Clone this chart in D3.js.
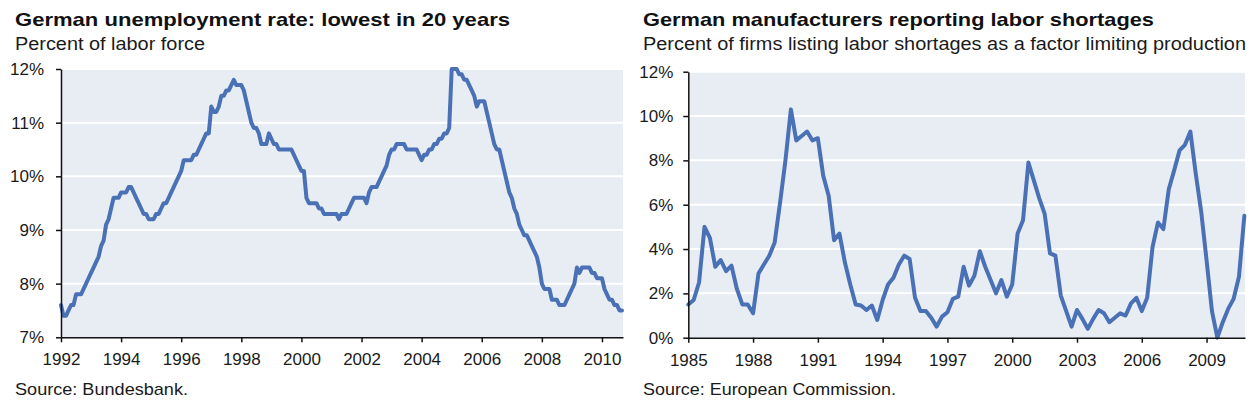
<!DOCTYPE html>
<html lang="en">
<head>
    <meta charset="UTF-8">
    <title>German labor market</title>
    <script src="https://d3js.org/d3.v7.min.js"></script>
    <style>
        html, body {
            margin: 0;
            padding: 0;
            background: #ffffff;
            overflow: hidden;
        }

        svg {
            display: block;
            font-family: "Liberation Sans", Arial, sans-serif;
        }

        .title {
            font-size: 18.5px;
            font-weight: bold;
            fill: #111;
        }

        .subtitle, .source {
            font-size: 17.5px;
            fill: #1a1a1a;
        }

        .source {
            font-size: 17px;
        }

        .axis text {
            font-size: 17px;
            fill: #1a1a1a;
        }

        .axis path, .axis line {
            stroke: #111;
            stroke-width: 1.5px;
        }

        .grid {
            stroke: #ffffff;
            stroke-width: 2px;
        }

        .plot-bg {
            fill: #e8edf4;
        }

        .series {
            fill: none;
            stroke: #4a71b6;
            stroke-width: 4px;
            stroke-linejoin: round;
            stroke-linecap: round;
        }
    </style>
</head>
<body>

    <svg id="chart" width="1251" height="413"></svg>

    <script>
        // Unemployment rate, percent of labor force, monthly from Jan 1992
        const unempStart = 1992;
        const unempMonthly = [
            7.6, 7.4, 7.4, 7.5, 7.6, 7.6, 7.8, 7.8, 7.8, 7.9, 8.0, 8.1,        // 1992
            8.2, 8.3, 8.4, 8.5, 8.7, 8.8, 9.1, 9.2, 9.4, 9.6, 9.6, 9.6,        // 1993
            9.7, 9.7, 9.7, 9.8, 9.8, 9.7, 9.6, 9.5, 9.4, 9.3, 9.3, 9.2,        // 1994
            9.2, 9.2, 9.3, 9.3, 9.4, 9.5, 9.5, 9.6, 9.7, 9.8, 9.9, 10.0,       // 1995
            10.1, 10.3, 10.3, 10.3, 10.3, 10.4, 10.4, 10.5, 10.6, 10.7, 10.8, 10.8, // 1996
            11.3, 11.2, 11.2, 11.3, 11.5, 11.5, 11.6, 11.6, 11.7, 11.8, 11.7, 11.7, // 1997
            11.7, 11.6, 11.4, 11.2, 11.0, 10.9, 10.9, 10.8, 10.6, 10.6, 10.6, 10.8, // 1998
            10.7, 10.6, 10.6, 10.5, 10.5, 10.5, 10.5, 10.5, 10.5, 10.4, 10.3, 10.2, // 1999
            10.1, 10.1, 9.6, 9.5, 9.5, 9.5, 9.5, 9.4, 9.4, 9.3, 9.3, 9.3,      // 2000
            9.3, 9.3, 9.3, 9.2, 9.3, 9.3, 9.3, 9.4, 9.5, 9.6, 9.6, 9.6,        // 2001
            9.6, 9.6, 9.5, 9.7, 9.8, 9.8, 9.8, 9.9, 10.0, 10.1, 10.2, 10.4,    // 2002
            10.5, 10.5, 10.6, 10.6, 10.6, 10.6, 10.5, 10.5, 10.5, 10.5, 10.5, 10.4, // 2003
            10.3, 10.4, 10.4, 10.5, 10.5, 10.6, 10.6, 10.7, 10.7, 10.8, 10.8, 10.9, // 2004
            12.0, 12.0, 12.0, 11.9, 11.9, 11.8, 11.8, 11.7, 11.6, 11.5, 11.3, 11.4, // 2005
            11.4, 11.4, 11.2, 11.0, 10.8, 10.6, 10.5, 10.5, 10.3, 10.1, 9.9, 9.7,   // 2006
            9.6, 9.4, 9.3, 9.1, 9.0, 8.9, 8.9, 8.8, 8.7, 8.6, 8.5, 8.3,        // 2007
            8.0, 7.9, 7.9, 7.9, 7.7, 7.7, 7.7, 7.6, 7.6, 7.6, 7.7, 7.8,        // 2008
            7.9, 8.0, 8.3, 8.2, 8.3, 8.3, 8.3, 8.3, 8.2, 8.2, 8.1, 8.1,        // 2009
            8.1, 7.9, 7.8, 7.7, 7.7, 7.6, 7.6, 7.5, 7.5                        // 2010
        ];
        const unempYTicks = [7, 8, 9, 10, 11, 12];
        const unempXTicks = [1992, 1994, 1996, 1998, 2000, 2002, 2004, 2006, 2008, 2010];

        // Firms listing labor shortages as a limiting factor, percent, quarterly from Q1 1985
        const shortStart = 1985;
        const shortQuarterly = [
            1.5, 1.7, 2.5, 5.0,     // 1985
            4.5, 3.2, 3.5, 3.0,     // 1986
            3.25, 2.2, 1.5, 1.5,    // 1987
            1.1, 2.9, 3.3, 3.7,     // 1988
            4.3, 6.1, 8.0, 10.3,    // 1989
            8.9, 9.1, 9.3, 8.9,     // 1990
            9.0, 7.3, 6.4, 4.4,     // 1991
            4.7, 3.4, 2.4, 1.5,     // 1992
            1.45, 1.25, 1.45, 0.8,  // 1993
            1.7, 2.4, 2.7, 3.3,     // 1994
            3.7, 3.55, 1.8, 1.2,    // 1995
            1.2, 0.9, 0.5, 0.95,    // 1996
            1.15, 1.75, 1.85, 3.2,  // 1997
            2.35, 2.8, 3.9, 3.2,    // 1998
            2.6, 2.0, 2.6, 1.85,    // 1999
            2.4, 4.7, 5.3, 7.9,     // 2000
            7.1, 6.3, 5.6, 3.8,     // 2001
            3.7, 1.9, 1.2, 0.5,     // 2002
            1.25, 0.85, 0.4, 0.85,  // 2003
            1.25, 1.1, 0.7, 0.9,    // 2004
            1.1, 1.0, 1.55, 1.8,    // 2005
            1.2, 1.8, 4.1, 5.2,     // 2006
            4.9, 6.7, 7.55, 8.45,   // 2007
            8.7, 9.3, 7.4, 5.7,     // 2008
            3.5, 1.2, 0.0, 0.7,     // 2009
            1.3, 1.75, 2.75, 5.5    // 2010
        ];
        const shortYTicks = [0, 2, 4, 6, 8, 10, 12];
        const shortXTicks = [1985, 1988, 1991, 1994, 1997, 2000, 2003, 2006, 2009];

        const svg = d3.select("#chart");

        const panels = [
            {
                title: "German unemployment rate: lowest in 20 years",
                titleWidth: 495,
                subtitle: "Percent of labor force",
                subtitleWidth: 190,
                source: "Source: Bundesbank.",
                sourceWidth: 173,
                textX: 15,
                left: 61, right: 623, top: 69, bottom: 337.3,
                xDomain: [1992, 2010.7],
                yDomain: [7, 12],
                yPad: 12,
                xTicks: unempXTicks,
                yTicks: unempYTicks,
                points: unempMonthly.map((v, i) => ({ t: unempStart + i / 12, v: v }))
            },
            {
                title: "German manufacturers reporting labor shortages",
                titleWidth: 511,
                subtitle: "Percent of firms listing labor shortages as a factor limiting production",
                subtitleWidth: 603,
                source: "Source: European Commission.",
                sourceWidth: 253,
                textX: 643,
                left: 688.3, right: 1245, top: 71.7, bottom: 337.7,
                xDomain: [1985, 2010.78],
                yDomain: [0, 12],
                yPad: 10,
                xTicks: shortXTicks,
                yTicks: shortYTicks,
                points: shortQuarterly.map((v, i) => ({ t: shortStart + i / 4, v: v }))
            }
        ];

        panels.forEach(drawPanel);

        function drawPanel(p) {
            const g = svg.append("g");

            const x = d3.scaleLinear().domain(p.xDomain).range([p.left, p.right]);
            const y = d3.scaleLinear().domain(p.yDomain).range([p.bottom, p.top]);

            // headings (stretched to the widths measured on the original)
            g.append("text")
                .attr("class", "title")
                .attr("x", p.textX)
                .attr("y", 26)
                .attr("textLength", p.titleWidth)
                .attr("lengthAdjust", "spacingAndGlyphs")
                .text(p.title);

            g.append("text")
                .attr("class", "subtitle")
                .attr("x", p.textX)
                .attr("y", 50)
                .attr("textLength", p.subtitleWidth)
                .attr("lengthAdjust", "spacingAndGlyphs")
                .text(p.subtitle);

            // plot background
            g.append("rect")
                .attr("class", "plot-bg")
                .attr("x", p.left)
                .attr("y", p.top)
                .attr("width", p.right - p.left)
                .attr("height", p.bottom - p.top);

            // horizontal gridlines
            g.append("g")
                .selectAll("line")
                .data(p.yTicks.slice(1))
                .enter().append("line")
                .attr("class", "grid")
                .attr("x1", p.left)
                .attr("x2", p.right)
                .attr("y1", d => y(d))
                .attr("y2", d => y(d));

            // series line
            const line = d3.line()
                .x(d => x(d.t))
                .y(d => y(d.v));

            g.append("path")
                .datum(p.points)
                .attr("class", "series")
                .attr("d", line);

            // axes
            g.append("g")
                .attr("class", "axis")
                .attr("transform", `translate(${p.left},0)`)
                .call(d3.axisLeft(y)
                    .tickValues(p.yTicks)
                    .tickFormat(d => d + "%")
                    .tickSize(5)
                    .tickSizeOuter(0)
                    .tickPadding(p.yPad));

            g.append("g")
                .attr("class", "axis")
                .attr("transform", `translate(0,${p.bottom})`)
                .call(d3.axisBottom(x)
                    .tickValues(p.xTicks)
                    .tickFormat(d3.format("d"))
                    .tickSize(5)
                    .tickSizeOuter(0)
                    .tickPadding(11));

            g.append("text")
                .attr("class", "source")
                .attr("x", p.textX)
                .attr("y", 395)
                .attr("textLength", p.sourceWidth)
                .attr("lengthAdjust", "spacingAndGlyphs")
                .text(p.source);
        }
    </script>
</body>
</html>
